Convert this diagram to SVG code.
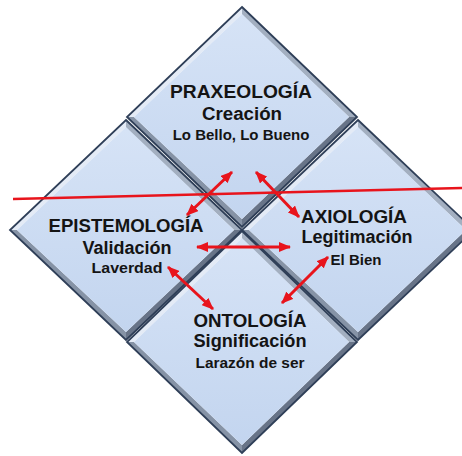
<svg xmlns="http://www.w3.org/2000/svg" width="462" height="456" viewBox="0 0 462 456">
<defs>
<linearGradient id="face" x1="0" y1="0" x2="0" y2="1">
<stop offset="0" stop-color="#d6e3f6"/>
<stop offset="1" stop-color="#c3d5ef"/>
</linearGradient>
<marker id="ah" viewBox="0 0 12 10" refX="11" refY="5" markerWidth="12" markerHeight="10" markerUnits="userSpaceOnUse" orient="auto-start-reverse">
<path d="M0,0 L12,5 L0,10 z" fill="#e8141c"/>
</marker>
</defs>
<style>
.face{fill:url(#face)}
.tl{fill:#e4ebf6}
.tr{fill:#a3afc0}
.bl{fill:#8693a6}
.br{fill:#687488}
.edge{fill:none;stroke:#2f3f58;stroke-width:1.8;stroke-linejoin:miter}
.t{font-family:"Liberation Sans",Arial,sans-serif;font-weight:bold;fill:#141414;text-anchor:middle}
.h{font-size:18px}
.s{font-size:15px}
.arr{stroke:#e8141c;stroke-width:3;fill:none;marker-start:url(#ah);marker-end:url(#ah)}
</style>
<rect width="462" height="456" fill="#ffffff"/>

<g id="node-epistemologia">
<polygon class="tl" points="10,230 126,120 126,127 17,230"/>
<polygon class="tr" points="126,120 242,230 234,230 126,128"/>
<polygon class="br" points="242,230 126,340 126,332 234,230"/>
<polygon class="bl" points="126,340 10,230 17,230 126,332"/>
<polygon class="face" points="126,127 234,230 126,332 17,230"/>
<polygon class="edge" points="126,120 242,230 126,340 10,230"/>
<text class="t h" x="126" y="232" textLength="155" lengthAdjust="spacingAndGlyphs">EPISTEMOLOGÍA</text>
<text class="t h" x="127" y="254">Validación</text>
<text class="t s" x="127" y="273" textLength="71" lengthAdjust="spacingAndGlyphs">Laverdad</text>
</g>

<g id="node-axiologia">
<polygon class="tl" points="242,230 358,120 358,127 249,230"/>
<polygon class="tr" points="358,120 474,230 466,230 358,128"/>
<polygon class="br" points="474,230 358,340 358,332 466,230"/>
<polygon class="bl" points="358,340 242,230 249,230 358,332"/>
<polygon class="face" points="358,127 466,230 358,332 249,230"/>
<polygon class="edge" points="358,120 474,230 358,340 242,230"/>
<text class="t h" x="354" y="223" textLength="106" lengthAdjust="spacingAndGlyphs">AXIOLOGÍA</text>
<text class="t h" x="357" y="243">Legitimación</text>
<text class="t s" x="356" y="265">El Bien</text>
</g>

<g id="node-ontologia">
<polygon class="tl" points="127,342 242,231 242,238 134,342"/>
<polygon class="tr" points="242,231 357,342 349,342 242,239"/>
<polygon class="br" points="357,342 242,453 242,445 349,342"/>
<polygon class="bl" points="242,453 127,342 134,342 242,445"/>
<polygon class="face" points="242,238 349,342 242,445 134,342"/>
<polygon class="edge" points="242,231 357,342 242,453 127,342"/>
<text class="t h" x="250" y="327" textLength="113" lengthAdjust="spacingAndGlyphs">ONTOLOGÍA</text>
<text class="t h" x="250" y="347" textLength="113" lengthAdjust="spacingAndGlyphs">Significación</text>
<text class="t s" x="250" y="368" textLength="109" lengthAdjust="spacingAndGlyphs">Larazón de ser</text>
</g>

<g id="node-praxeologia">
<polygon class="tl" points="127,117 242,7 242,14 134,117"/>
<polygon class="tr" points="242,7 357,117 349,117 242,15"/>
<polygon class="br" points="357,117 242,227 242,219 349,117"/>
<polygon class="bl" points="242,227 127,117 134,117 242,219"/>
<polygon class="face" points="242,14 349,117 242,219 134,117"/>
<polygon class="edge" points="242,7 357,117 242,227 127,117"/>
<text class="t h" x="241" y="98" textLength="142" lengthAdjust="spacingAndGlyphs">PRAXEOLOGÍA</text>
<text class="t h" x="242" y="120" textLength="80" lengthAdjust="spacingAndGlyphs">Creación</text>
<text class="t s" x="241" y="140">Lo Bello, Lo Bueno</text>
</g>

<g id="connectors">
<line x1="13" y1="199" x2="462" y2="188" stroke="#e8141c" stroke-width="2.6"/>
<line class="arr" x1="232" y1="172" x2="187" y2="215"/>
<line class="arr" x1="256" y1="172" x2="299" y2="217"/>
<line class="arr" x1="197" y1="247" x2="290" y2="247"/>
<line class="arr" x1="168" y1="267" x2="213" y2="309"/>
<line class="arr" x1="328" y1="257" x2="282" y2="303"/>
</g>
</svg>
